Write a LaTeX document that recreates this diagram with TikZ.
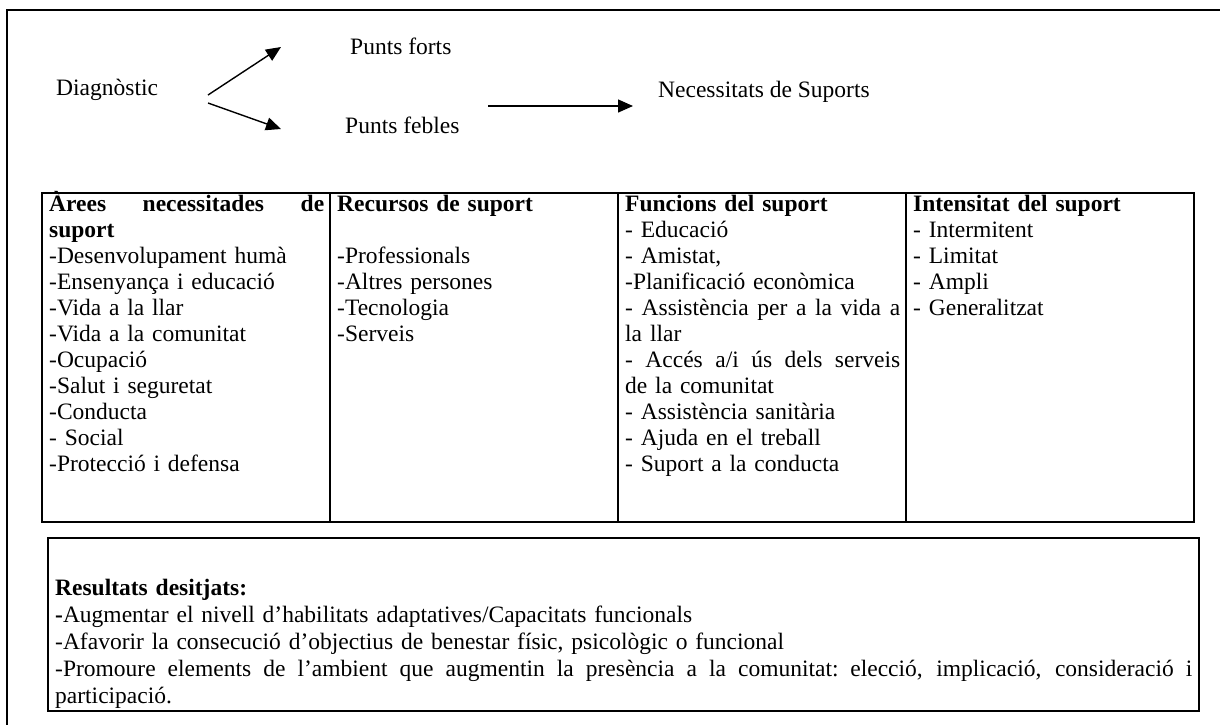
\documentclass[tikz,border=0pt]{standalone}
\usepackage{fontspec}
\setmainfont{Liberation Serif}
\usetikzlibrary{arrows.meta}
\setlength{\parindent}{0pt}
% a line stretched to a given width, spaces growing evenly
\newcommand{\jline}[2]{\leavevmode\hbox to #1{\spaceskip=0.25em plus 1fil\relax #2}}
\newcommand{\fl}{\rule{0pt}{20pt}}
\begin{document}
\begin{tikzpicture}[x=1pt,y=-1pt,
  every node/.style={inner sep=0pt, font=\fontsize{23.5}{26}\selectfont},
  lbl/.style={anchor=base west},
  arr/.style={line width=1.4pt, -{Triangle[length=15pt,width=13pt]}},
  frame/.style={line width=1.6pt},
  grid/.style={line width=2pt},
  cell/.style={anchor=north west, text width=275pt, align=left},
]
\useasboundingbox (0,0) rectangle (1220,724);
% outer frame (only top and left visible)
\draw[frame] (7,740) -- (7,10) -- (1240,10);

% top diagram
\node[lbl] (diag) at (56,95) {Diagnòstic};
\node[lbl] (forts) at (350,54) {Punts forts};
\node[lbl] (febles) at (345,133) {Punts febles};
\node[lbl] (nec) at (658,97) {Necessitats de Suports};

\coordinate (a1s) at (208,95);
\coordinate (a1e) at (281,47);
\coordinate (a2s) at (208,103);
\coordinate (a2e) at (281,129);
\coordinate (a3s) at (488,106);
\coordinate (a3e) at (633,106);
\draw[arr] (a1s) -- (a1e);
\draw[arr] (a2s) -- (a2e);
\draw[arr] (a3s) -- (a3e);

% table
\draw[grid] (42,193) rectangle (1194,522);
\draw[grid] (330,193) -- (330,522);
\draw[grid] (618,193) -- (618,522);
\draw[grid] (906,193) -- (906,522);

\node[cell] (c1) at (49,191) {\fl\jline{275pt}{\bfseries Àrees necessitades de}\\
\textbf{suport}\\
-Desenvolupament humà\\
-Ensenyança i educació\\
-Vida a la llar\\
-Vida a la comunitat\\
-Ocupació\\
-Salut i seguretat\\
-Conducta\\
- Social\\
-Protecció i defensa};

\node[cell] (c2) at (337,191) {\fl\textbf{Recursos de suport}\\
\mbox{}\\
-Professionals\\
-Altres persones\\
-Tecnologia\\
-Serveis};

\node[cell] (c3) at (625,191) {\fl\textbf{Funcions del suport}\\
- Educació\\
- Amistat,\\
-Planificació econòmica\\
\jline{275pt}{- Assistència per a la vida a}\\
la llar\\
\jline{275pt}{- Accés a/i ús dels serveis}\\
de la comunitat\\
- Assistència sanitària\\
- Ajuda en el treball\\
- Suport a la conducta};

\node[cell] (c4) at (913,191) {\fl\textbf{Intensitat del suport}\\
- Intermitent\\
- Limitat\\
- Ampli\\
- Generalitzat};

% results box
\draw[grid] (48,538) rectangle (1199,711);
\node[cell, text width=1137pt, font=\fontsize{23.5}{27}\selectfont] (res) at (55,575) {\fl\textbf{Resultats desitjats:}\\
\textbf{-}Augmentar el nivell d’habilitats adaptatives/Capacitats funcionals\\
-Afavorir la consecució d’objectius de benestar físic, psicològic o funcional\\
\jline{1137pt}{-Promoure elements de l’ambient que augmentin la presència a la comunitat: elecció, implicació, consideració i}\\
participació.};
\end{tikzpicture}
\end{document}
